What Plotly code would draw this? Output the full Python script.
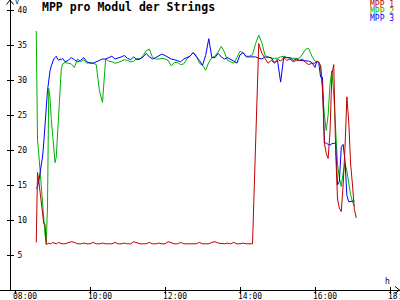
import pandas as pd
import plotly.graph_objects as go

DAY = "2024-06-01 "

# time grid (early: 2 min, main: 5 min, end: 3 min)
times_early = pd.date_range(DAY + "08:34", DAY + "09:16", freq="2min")
times_mid = pd.date_range(DAY + "09:20", DAY + "16:00", freq="5min")
times_end = pd.date_range(DAY + "16:03", DAY + "17:06", freq="3min")
times = list(times_early) + list(times_mid) + list(times_end)

tick_labels = ["08:00", "10:00", "12:00", "14:00", "16:00", "18:00"]
y_ticks = [5, 10, 15, 20, 25, 30, 35, 40]

mpp1_early = [6.8, 16.8, 15.6, 14.0, 12.0, 10.8, 9.5, 9.4, 6.5, 6.6, 6.7,
              6.6, 6.6, 6.8, 6.7, 6.6, 6.6, 6.7, 6.8, 6.7, 6.6, 6.6]
mpp1_mid = [6.6, 6.7, 6.9, 6.8, 6.6, 6.6, 6.7, 6.6, 6.6, 6.8,
            6.6, 6.6, 6.7, 6.6, 6.6, 6.6, 6.8, 6.6, 6.6, 6.7,
            6.6, 6.6, 6.9, 6.7, 6.6, 6.6, 6.6, 6.8, 6.6, 6.6,
            6.7, 6.6, 6.6, 6.9, 6.7, 6.6, 6.6, 6.8, 6.6, 6.6,
            6.6, 6.7, 6.6, 6.8, 6.6, 6.6, 6.6, 6.8, 6.9, 6.7,
            6.6, 6.6, 6.7, 6.6, 6.8, 6.6, 6.6, 6.7, 6.6, 6.6,
            6.6, 21.0, 35.2, 33.8, 33.1, 32.4, 32.8, 32.5, 33.0, 32.7,
            33.2, 32.8, 33.0, 32.6, 32.8, 32.8, 33.0, 32.5, 32.2, 32.4,
            32.4]
mpp1_end = [32.7, 32.5, 32.0, 29.0, 21.0, 19.5, 18.8, 22.5, 30.8, 32.2, 20.0,
            13.0, 11.7, 11.2, 15.0, 20.4, 27.6, 24.0, 18.0, 15.0, 11.5, 10.3]

mpp2_early = [37.0, 21.4, 19.5, 17.0, 15.0, 12.0, 9.5, 8.0, 6.6, 12.0, 28.8,
              27.5, 24.5, 22.0, 20.0, 18.2, 19.0, 22.0, 25.5, 28.5, 31.5, 32.3]
mpp2_mid = [32.5, 32.4, 32.3, 31.8, 33.0, 32.6, 32.9, 32.4, 32.5, 32.4,
            32.2, 28.5, 26.8, 33.0, 32.7, 32.6, 32.4, 32.5, 32.7, 32.9,
            32.8, 32.6, 32.7, 33.1, 33.0, 33.5, 34.2, 34.4, 33.2, 33.0,
            33.0, 33.1, 33.0, 32.8, 32.0, 32.5, 32.5, 32.2, 32.3, 33.0,
            33.4, 33.9, 33.5, 32.4, 32.1, 31.4, 32.5, 33.2, 33.4, 34.0,
            34.8, 34.0, 32.8, 32.6, 32.4, 33.2, 34.1, 33.9, 33.4, 33.4,
            33.6, 35.2, 36.4, 35.3, 33.5, 33.3, 33.1, 33.1, 33.1, 33.3,
            33.4, 33.2, 33.1, 33.1, 33.1, 33.1, 33.7, 34.4, 34.5, 33.4,
            32.7]
mpp2_end = [32.6, 32.6, 32.0, 28.0, 25.0, 22.8, 25.0, 29.4, 31.3, 28.0, 22.0,
            18.0, 16.0, 14.8, 16.7, 18.1, 17.0, 15.0, 13.6, 12.6, 12.0, None]

mpp3_early = [14.5, 14.8, 15.5, 16.5, 17.5, 19.0, 21.0, 23.0, 26.0, 28.5, 30.3,
              31.3, 32.0, 32.6, 33.0, 33.2, 33.4, 33.0, 32.8, 33.0, 32.9, 33.1]
mpp3_mid = [32.6, 32.8, 33.2, 32.9, 32.6, 32.8, 33.2, 32.6, 32.4, 32.4,
            32.6, 32.9, 33.0, 33.0, 33.2, 33.4, 33.0, 33.1, 33.3, 33.5,
            33.1, 32.9, 33.3, 32.9, 33.0, 33.3, 33.8, 33.3, 33.0, 33.2,
            33.5, 33.7, 33.5, 33.2, 33.0, 32.9, 32.7, 32.6, 33.0, 33.2,
            33.4, 33.9, 33.4, 32.8, 32.1, 33.5, 35.9, 33.2, 33.2, 33.8,
            33.3, 33.0, 33.2, 33.0, 32.7, 32.4, 33.6, 33.9, 33.3, 33.3,
            33.3, 33.3, 33.1, 33.0, 33.3, 33.3, 33.2, 32.4, 32.8, 29.7,
            33.3, 33.2, 33.2, 32.8, 33.0, 32.8, 32.8, 32.8, 32.7, 32.5,
            31.8]
mpp3_end = [32.7, 32.4, 30.4, 30.4, 21.0, 21.0, 20.8, 20.7, 20.9, 21.0, 21.0,
            15.0, 15.5, 20.4, 20.8, 18.5, 13.5, 12.6, 12.7, 12.7, 12.7, None]

series_names = ["MPP 1", "MPP 2", "MPP 3"]
series_values = [mpp1_early + mpp1_mid + mpp1_end,
                 mpp2_early + mpp2_mid + mpp2_end,
                 mpp3_early + mpp3_mid + mpp3_end]
colors = ["#c00000", "#00b000", "#0000ff"]

W, H, PLOT_H = 400, 300, 290
FONT = "DejaVu Sans Mono"


def fx(px):
    return px / W


def fy(py):
    return 1 - py / PLOT_H


fig = go.Figure()
for idx in [1, 2, 0]:
    fig.add_trace(go.Scatter(x=times, y=series_values[idx], mode="lines",
                             name=series_names[idx],
                             line=dict(color=colors[idx], width=1),
                             showlegend=False, hoverinfo="skip"))
# invisible trace on the overlay axes so that they are drawn
fig.add_trace(go.Scatter(x=[times[0]], y=[None], xaxis="x2", yaxis="y2",
                         showlegend=False, hoverinfo="skip"))

xrange = [DAY + "07:36", DAY + "18:16"]
tick_dates = [DAY + t for t in tick_labels]
yrange = [0, PLOT_H / 7.0]

fig.update_layout(
    width=W, height=H,
    margin=dict(l=0, r=0, t=0, b=H - PLOT_H, pad=0),
    paper_bgcolor="white", plot_bgcolor="white",
    xaxis=dict(type="date", range=xrange, tickvals=tick_dates,
               showticklabels=False,
               showgrid=False, zeroline=False, showline=True, linecolor="black",
               linewidth=1, ticks="inside", ticklen=3, tickcolor="black",
               automargin=False),
    xaxis2=dict(type="date", range=xrange, tickvals=tick_dates, overlaying="x",
                anchor="y", side="bottom", showticklabels=False, showgrid=False,
                zeroline=False, showline=False, ticks="outside", ticklen=3,
                tickcolor="black"),
    yaxis=dict(range=yrange, anchor="free", position=fx(10), tickvals=y_ticks,
               showgrid=False, zeroline=False, showline=True, linecolor="black",
               linewidth=1, ticks="outside", ticklen=3, tickcolor="black",
               ticklabelposition="inside", ticklabelstandoff=5,
               tickfont=dict(family=FONT, size=8, color="black"), automargin=False),
    yaxis2=dict(range=yrange, overlaying="y", anchor="free", position=fx(10),
                tickvals=y_ticks, showticklabels=False, showgrid=False,
                zeroline=False, showline=False, ticks="inside", ticklen=3,
                tickcolor="black"),
)

annotations = [
    dict(text="MPP pro Modul der Strings", x=fx(40), y=fy(7), xanchor="left",
         yanchor="middle", xref="paper",
         font=dict(family=FONT, size=11.5, color="black", weight="bold")),
    dict(text="V", x=fx(17), y=fy(2), xanchor="center", yanchor="middle",
         xref="paper", font=dict(family=FONT, size=7, color="black")),
    dict(text="h", x=fx(387), y=fy(281), xanchor="center", yanchor="middle",
         xref="paper", font=dict(family=FONT, size=8, color="black")),
]
legend_y = [4.5, 11.5, 18.5]
for name, col, ly in zip(series_names, colors, legend_y):
    annotations.append(dict(text=name, x=fx(396), y=fy(ly), xanchor="right",
                            yanchor="middle", xref="paper",
                            font=dict(family=FONT, size=8, color=col)))
# x tick labels: left part starts just before the tick
for d, lab in zip(tick_dates, tick_labels):
    annotations.append(dict(text=lab, x=d, xref="x", xshift=-4, y=fy(296),
                            xanchor="left", yanchor="middle",
                            font=dict(family=FONT, size=8, color="black")))
for a in annotations:
    a.update(yref="paper", showarrow=False)
fig.update_layout(annotations=annotations)

shapes = [
    dict(type="path", path=f"M {fx(6.5)},{fy(4.5)} L {fx(10)},{fy(0)} L {fx(13.5)},{fy(4.5)}"),
    dict(type="path", path=f"M {fx(395)},{fy(286.5)} L {fx(399.5)},{fy(290)} L {fx(395)},{fy(293.5)}"),
]
for s in shapes:
    s.update(xref="paper", yref="paper", line=dict(color="black", width=1))
fig.update_layout(shapes=shapes)

fig.write_html("out.html")
